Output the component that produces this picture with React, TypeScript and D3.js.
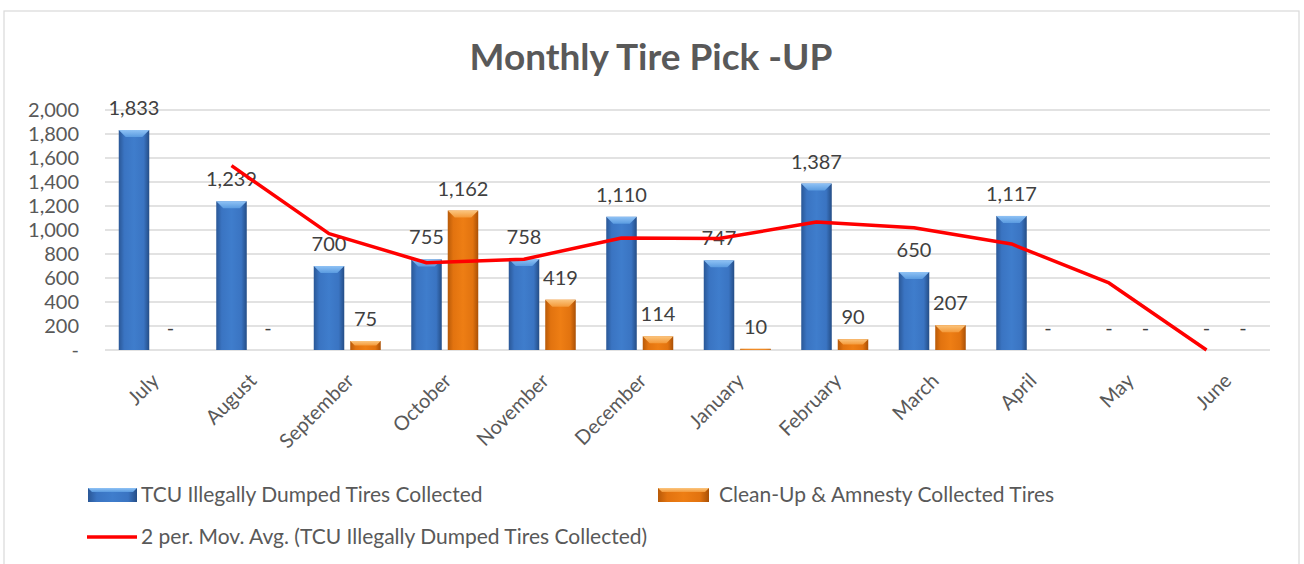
import React from 'react';
import * as d3 from 'd3';

const months = ['July', 'August', 'September', 'October', 'November', 'December', 'January', 'February', 'March', 'April', 'May', 'June'];
const tcuTires = [1833, 1239, 700, 755, 758, 1110, 747, 1387, 650, 1117, 0, 0];
const cleanupTires = [0, 0, 75, 1162, 419, 114, 10, 90, 207, 0, 0, 0];
// moving average points (first month has none)
const movAvg = [null, 1536, 969.5, 727.5, 756.5, 934, 928.5, 1067, 1018.5, 883.5, 558.5, 0];
const yTicks = [0, 200, 400, 600, 800, 1000, 1200, 1400, 1600, 1800, 2000];

const FONT = 'Lato, "Open Sans", sans-serif';

export default function App() {
  const width = 1304;
  const height = 564;

  // scales
  const x = d3.scaleBand<string>().domain(months).range([103.5, 1273.5]).padding(0);
  const sub = d3.scaleBand<string>().domain(['tcu', 'clean']).range([0, x.bandwidth()])
    .paddingInner(0.164).paddingOuter(0.418);
  const y = d3.scaleLinear().domain([0, 2000]).range([350, 110]);

  const fmt = (v: number) => (v === 0 ? '-' : d3.format(',')(v));

  const line = d3.line<number | null>()
    .defined(d => d !== null)
    .x((_, i) => x(months[i])! + sub('tcu')! + sub.bandwidth() / 2)
    .y(d => y(d as number));

  const bar = (key: 'tcu' | 'clean', vals: number[], fill: string, bevel: string) =>
    vals.map((v, i) => {
      const bx = x(months[i])! + sub(key)!;
      const bw = sub.bandwidth();
      const top = y(v);
      const h = y(0) - top;
      const bev = Math.min(7, h / 2);
      return (
        <g key={key + i}>
          {h > 0 && (
            <>
              <rect x={bx} y={top} width={bw} height={h} fill={`url(#${fill})`} />
              <polygon points={`${bx},${top} ${bx + bw},${top} ${bx + bw - bev},${top + bev} ${bx + bev},${top + bev}`} fill={`url(#${bevel})`} />
            </>
          )}
          <text x={bx + bw / 2} y={top - 15} textAnchor="middle" fontSize={20} fill="#404040" fontFamily={FONT}>
            {fmt(v)}
          </text>
        </g>
      );
    });

  return (
    <svg width={width} height={height} style={{ position: 'absolute', left: 0, top: 0, background: '#fff' }}>
      <defs>
        <linearGradient id="blueBody" x1="0" x2="1" y1="0" y2="0">
          <stop offset="0" stopColor="#2a5796" />
          <stop offset="0.18" stopColor="#3a74c2" />
          <stop offset="0.5" stopColor="#3f7dcc" />
          <stop offset="0.82" stopColor="#3a74c2" />
          <stop offset="1" stopColor="#244d86" />
        </linearGradient>
        <linearGradient id="blueTop" x1="0" x2="0" y1="0" y2="1">
          <stop offset="0" stopColor="#8fc2f5" />
          <stop offset="1" stopColor="#5a9be0" />
        </linearGradient>
        <linearGradient id="orangeBody" x1="0" x2="1" y1="0" y2="0">
          <stop offset="0" stopColor="#b85a08" />
          <stop offset="0.18" stopColor="#e2730f" />
          <stop offset="0.5" stopColor="#ee7e14" />
          <stop offset="0.82" stopColor="#e2730f" />
          <stop offset="1" stopColor="#a95006" />
        </linearGradient>
        <linearGradient id="orangeTop" x1="0" x2="0" y1="0" y2="1">
          <stop offset="0" stopColor="#fbc57e" />
          <stop offset="1" stopColor="#f49a3a" />
        </linearGradient>
      </defs>

      <rect x={4} y={11} width={1295} height={600} fill="#fff" stroke="#d9d9d9" strokeWidth={1.2} />

      <text x={651} y={70} textAnchor="middle" fontSize={37} fontWeight="bold" fill="#595959" fontFamily={FONT}>
        Monthly Tire Pick -UP
      </text>

      {/* gridlines + y ticks */}
      {yTicks.map(t => (
        <g key={t}>
          <line x1={105} x2={1270} y1={y(t)} y2={y(t)} stroke="#d9d9d9" strokeWidth={1.3} />
          <text x={79} y={y(t) + 7} textAnchor="end" fontSize={20} fill="#595959" fontFamily={FONT}>
            {fmt(t)}
          </text>
        </g>
      ))}

      {bar('tcu', tcuTires, 'blueBody', 'blueTop')}
      {bar('clean', cleanupTires, 'orangeBody', 'orangeTop')}

      <path d={line(movAvg) || ''} fill="none" stroke="#ff0000" strokeWidth={3.5} strokeLinejoin="round" />

      {/* x labels */}
      {months.map(m => {
        const cx = x(m)! + x.bandwidth() / 2;
        return (
          <text key={m} transform={`translate(${cx + 8},${382}) rotate(-45)`} textAnchor="end" fontSize={20} fill="#595959" fontFamily={FONT}>
            {m}
          </text>
        );
      })}

      {/* legend */}
      <g fontFamily={FONT} fontSize={21} fill="#595959">
        <rect x={88} y={488} width={49} height={14} fill="url(#blueBody)" />
        <polygon points="88,488 137,488 133,492 92,492" fill="url(#blueTop)" />
        <text x={141} y={502}>TCU Illegally Dumped Tires Collected</text>
        <rect x={658} y={488} width={51} height={14} fill="url(#orangeBody)" />
        <polygon points="658,488 709,488 705,492 662,492" fill="url(#orangeTop)" />
        <text x={719} y={502}>Clean-Up &amp; Amnesty Collected Tires</text>
        <line x1={87} x2={137} y1={537} y2={537} stroke="#ff0000" strokeWidth={3.5} />
        <text x={141} y={544}>2 per. Mov. Avg. (TCU Illegally Dumped Tires Collected)</text>
      </g>
    </svg>
  );
}
